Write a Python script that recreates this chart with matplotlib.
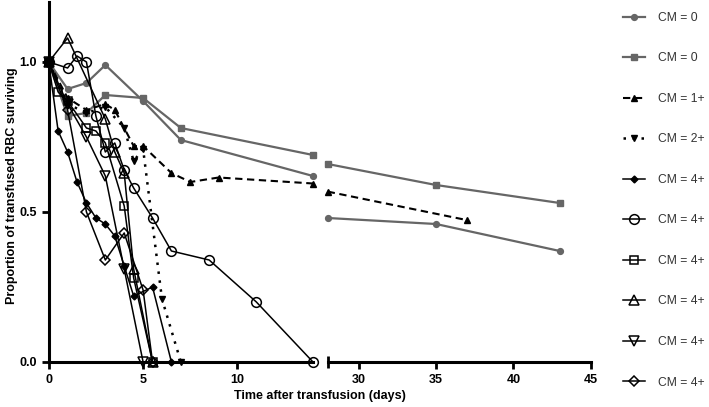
import matplotlib
matplotlib.use("Agg")
import matplotlib.pyplot as plt
import numpy as np

plt.rcParams['font.family'] = ['Liberation Sans', 'DejaVu Sans']

# ---- data ----
labels = ["CM = 0", "CM = 0", "CM = 1+", "CM = 2+", "CM = 4+", "CM = 4+",
          "CM = 4+", "CM = 4+", "CM = 4+", "CM = 4+"]

cm0_circ_days = [0, 1, 2, 3, 5, 7, 14, 28, 35, 43]
cm0_circ_vals = [1.0, 0.91, 0.93, 0.99, 0.87, 0.74, 0.62, 0.48, 0.46, 0.37]

cm0_sq_days = [0, 1, 2, 3, 5, 7, 14, 28, 35, 43]
cm0_sq_vals = [1.0, 0.82, 0.83, 0.89, 0.88, 0.78, 0.69, 0.66, 0.59, 0.53]

cm1_days = [0, 1, 2, 3, 3.5, 4.5, 5, 6.5, 7.5, 9, 14, 28, 37]
cm1_vals = [1.0, 0.88, 0.84, 0.86, 0.84, 0.72, 0.72, 0.63, 0.60, 0.615, 0.595, 0.568, 0.473]

cm2_days = [0, 1, 2, 3, 4, 4.5, 5, 6, 7]
cm2_vals = [1.0, 0.86, 0.83, 0.85, 0.78, 0.67, 0.71, 0.21, 0.0]

cm4_fdiam_days = [0, 0.5, 1, 1.5, 2, 2.5, 3, 3.5, 4, 4.5, 5.5, 6.5]
cm4_fdiam_vals = [1.0, 0.77, 0.70, 0.60, 0.53, 0.48, 0.46, 0.42, 0.32, 0.22, 0.25, 0.0]

cm4_circ_days = [0, 1, 1.5, 2, 2.5, 3, 3.5, 4, 4.5, 5.5, 6.5, 8.5, 11, 14]
cm4_circ_vals = [1.0, 0.98, 1.02, 1.0, 0.82, 0.70, 0.73, 0.64, 0.58, 0.48, 0.37, 0.34, 0.20, 0.0]

cm4_sq_days = [0, 0.5, 1, 2, 2.5, 3, 4, 4.5, 5.5]
cm4_sq_vals = [1.0, 0.90, 0.87, 0.78, 0.77, 0.73, 0.52, 0.28, 0.0]

cm4_tri_days = [0, 1, 3, 3.5, 4, 4.5, 5.5]
cm4_tri_vals = [1.0, 1.08, 0.81, 0.70, 0.63, 0.31, 0.0]

cm4_tdown_days = [0, 1, 2, 3, 4, 5]
cm4_tdown_vals = [1.0, 0.86, 0.75, 0.62, 0.31, 0.0]

cm4_diam_days = [0, 1, 2, 3, 4, 5, 5.5]
cm4_diam_vals = [1.0, 0.84, 0.50, 0.34, 0.43, 0.24, 0.0]

series_days = [cm0_circ_days, cm0_sq_days, cm1_days, cm2_days, cm4_fdiam_days,
               cm4_circ_days, cm4_sq_days, cm4_tri_days, cm4_tdown_days, cm4_diam_days]
series_vals = [cm0_circ_vals, cm0_sq_vals, cm1_vals, cm2_vals, cm4_fdiam_vals,
               cm4_circ_vals, cm4_sq_vals, cm4_tri_vals, cm4_tdown_vals, cm4_diam_vals]

GRAY = '#666666'
styles = [
    dict(color=GRAY, ls='-', lw=1.6, marker='o', ms=4.2, mfc=GRAY, mec=GRAY),
    dict(color=GRAY, ls='-', lw=1.6, marker='s', ms=4.2, mfc=GRAY, mec=GRAY),
    dict(color='black', ls=(0, (3.5, 2.2)), lw=1.5, marker='^', ms=4.2, mfc='black', mec='black'),
    dict(color='black', ls=(0, (1, 2.6)), lw=1.8, marker='v', ms=4.2, mfc='black', mec='black'),
    dict(color='black', ls='-', lw=1.1, marker='D', ms=3.5, mfc='black', mec='black'),
    dict(color='black', ls='-', lw=1.1, marker='o', ms=7.0, mfc='none', mec='black', mew=1.1),
    dict(color='black', ls='-', lw=1.1, marker='s', ms=6.4, mfc='none', mec='black', mew=1.1),
    dict(color='black', ls='-', lw=1.1, marker='^', ms=7.0, mfc='none', mec='black', mew=1.1),
    dict(color='black', ls='-', lw=1.1, marker='v', ms=7.0, mfc='none', mec='black', mew=1.1),
    dict(color='black', ls='-', lw=1.1, marker='D', ms=5.2, mfc='none', mec='black', mew=1.1),
]

W, H = 709, 407
fig = plt.figure(figsize=(W / 100, H / 100), dpi=100)

y0 = 1 - 362 / H
hgt = 360 / H
axL = fig.add_axes([48.7 / W, y0, (313 - 48.7) / W, hgt])
axR = fig.add_axes([327.7 / W, y0, (590.7 - 327.7) / W, hgt])

handles = []
for d, v, st, lab in zip(series_days, series_vals, styles, labels):
    d = np.array(d, dtype=float)
    v = np.array(v, dtype=float)
    mL = d <= 14
    mR = d >= 28
    h, = axL.plot(d[mL], v[mL], clip_on=False, label=lab, zorder=3, **st)
    if mR.any():
        axR.plot(d[mR], v[mR], clip_on=False, zorder=3, **st)
    handles.append(h)

for ax in (axL, axR):
    ax.set_ylim(0, 1.2)
    ax.spines['top'].set_visible(False)
    ax.spines['right'].set_visible(False)
    ax.spines['bottom'].set_linewidth(2.2)
    ax.spines['left'].set_linewidth(2.2)
    ax.set_facecolor('none')
    ax.tick_params(width=2.0, length=5, labelsize=9)

axL.set_xlim(0, 14)
axL.set_xticks([0, 5, 10])
axL.set_yticks([0.0, 0.5, 1.0])
axL.set_yticklabels(['0.0', '0.5', '1.0'], fontweight='bold', fontsize=9)
axL.set_xticklabels(['0', '5', '10'], fontweight='bold', fontsize=9)

axR.set_xlim(28, 45)
axR.set_xticks([30, 35, 40, 45])
axR.set_xticklabels(['30', '35', '40', '45'], fontweight='bold', fontsize=9)
axR.set_xticks([28], minor=True)
axR.tick_params(axis='x', which='minor', direction='inout', length=9, width=2.0)
axR.spines['left'].set_visible(False)
axR.tick_params(axis='y', left=False, labelleft=False)

fig.text(319.7 / W, 1 - 396 / H, 'Time after transfusion (days)', ha='center', va='center',
         fontsize=9, fontweight='bold')
fig.text(12 / W, 1 - 186 / H, 'Proportion of transfused RBC surviving', ha='center', va='center',
         rotation=90, fontsize=9, fontweight='bold')

fig.legend(handles=handles, labels=labels, loc='upper left',
           bbox_to_anchor=(612 / W, 1 - 1 / H), frameon=False, fontsize=8.7,
           handlelength=1.8, handletextpad=1.1, labelspacing=2.36, labelcolor='#333333')

fig.savefig('out.png', dpi=100)
